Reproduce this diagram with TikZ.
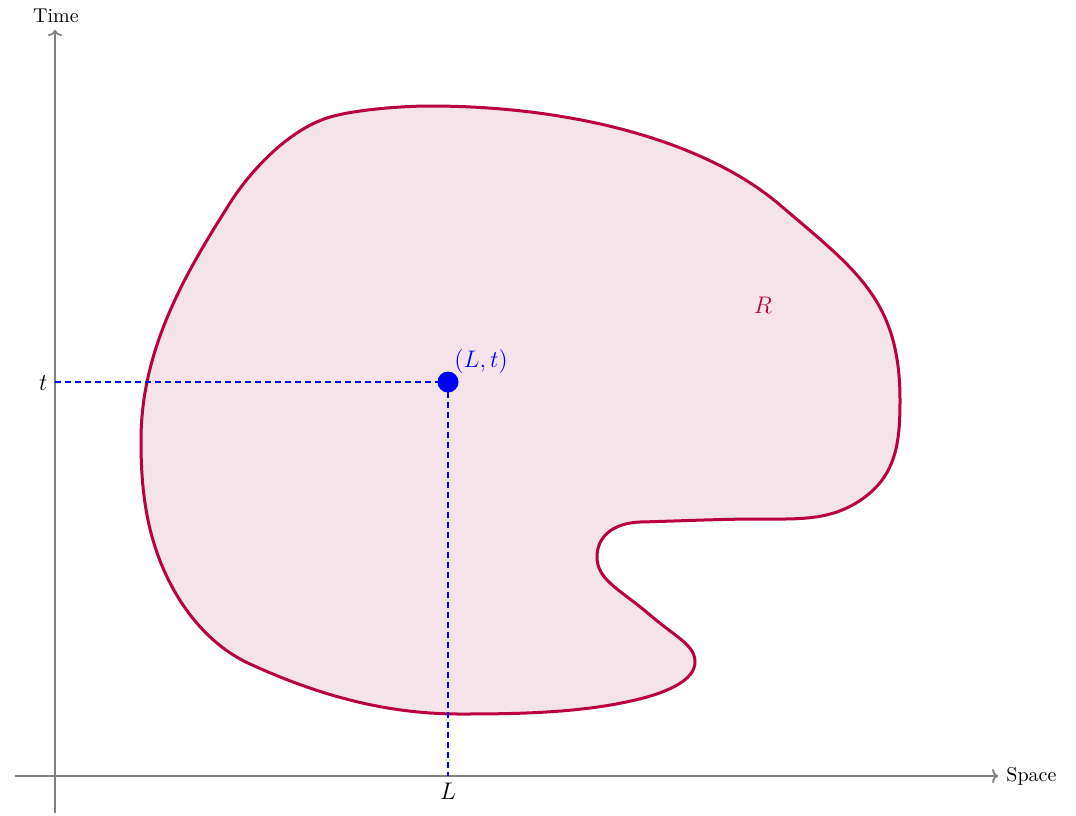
\documentclass[tikz,border=0pt]{standalone}
\usetikzlibrary{arrows.meta}
\definecolor{regline}{RGB}{185,0,65}
\definecolor{regfill}{RGB}{244,228,234}
\definecolor{axisgray}{RGB}{128,128,128}
\begin{document}
\begin{tikzpicture}[x=0.5pt,y=-0.5pt,
  axis/.style={draw=axisgray,line width=0.9pt,-{To[length=3pt,width=7pt]}},
  guide/.style={draw=blue,line width=0.8pt,dash pattern=on 3pt off 2pt},
  lbl/.style={inner sep=1pt,font=\normalsize},
  mlbl/.style={inner sep=1pt,font=\large}]
\useasboundingbox (0,0) rectangle (1076,815);
% region
\draw[regline,fill=regfill,line width=1.5pt]
 (430,106) .. controls (570,106) and (704,140) .. (780,205)
 .. controls (856,270) and (900,300) .. (900,400)
 .. controls (900,440) and (897,473) .. (865,497)
 .. controls (833,521) and (800,519) .. (760,519)
 .. controls (720,519) and (680,521) .. (640,522)
 .. controls (615,523) and (597,535) .. (597,557)
 .. controls (597,580) and (619.6,589) .. (650,615)
 .. controls (676.6,637.75) and (695,645) .. (695,662)
 .. controls (695,680) and (668,691) .. (647,697)
 .. controls (589,713) and (520,714) .. (460,714)
 .. controls (385,714) and (318,695) .. (250,664)
 .. controls (195,639) and (160,579) .. (148,520)
 .. controls (142.4,492.6) and (141,468) .. (141,440)
 .. controls (141,345) and (190,266.5) .. (230,203)
 .. controls (248.7,173.4) and (286.8,130) .. (330,117)
 .. controls (354,110) and (400,106) .. (430,106) -- cycle;
\node[text=regline,mlbl] (R) at (763,305) {$R$};
% axes
\coordinate (yb) at (55,813);
\coordinate (yt) at (55,30);
\coordinate (xl) at (15,776);
\coordinate (xr) at (998,776);
\draw[axis] (yb) -- (yt);
\draw[axis] (xl) -- (xr);
\node[lbl,anchor=south] (time) at (56,25) {Time};
\node[lbl,anchor=west] (space) at (1004,776) {Space};
% point
\coordinate (tp) at (55,382);
\coordinate (Lp) at (448,776);
\coordinate (Pc) at (448,382);
\draw[guide] (tp) -- (Pc);
\draw[guide] (Pc) -- (Lp);
\node[circle,fill=blue,minimum size=10.5pt,inner sep=0pt] (P) at (Pc) {};
\node[mlbl,anchor=east] (t) at (50,383) {$t$};
\node[mlbl,anchor=north] (L) at (448,781) {$L$};
\node[mlbl,text=blue,anchor=south west] (Pl) at (452,376) {$(L,t)$};
\end{tikzpicture}
\end{document}
